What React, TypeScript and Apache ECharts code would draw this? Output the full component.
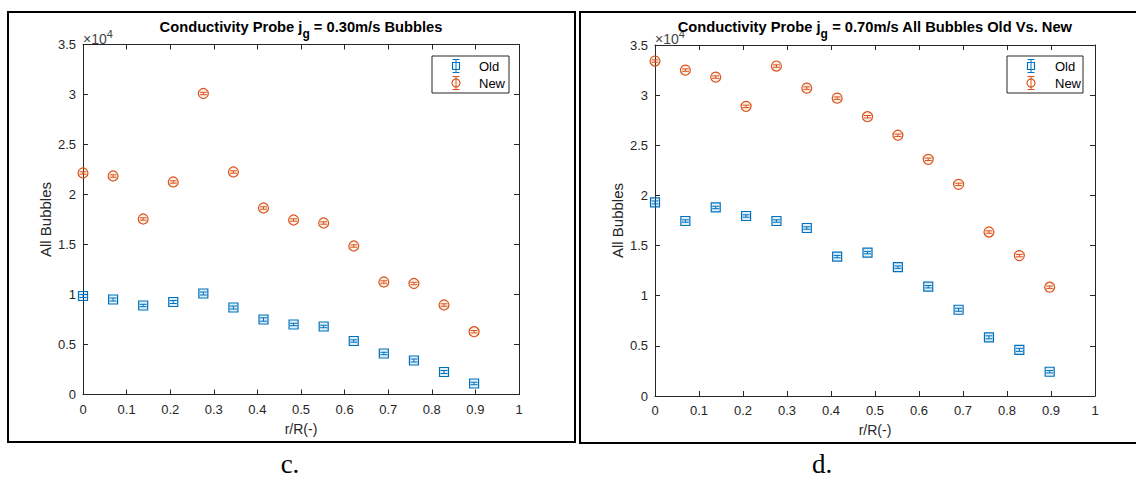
import React, { useEffect, useRef } from 'react';
import * as echarts from 'echarts';

// r/R positions (shared by both panels)
const rPos = [0, 0.069, 0.138, 0.207, 0.276, 0.345, 0.414, 0.483, 0.552, 0.621, 0.69, 0.759, 0.828, 0.897];
// panel c: jg = 0.30 m/s
const oldC = [9850, 9500, 8900, 9250, 10100, 8700, 7500, 7000, 6800, 5350, 4100, 3400, 2250, 1100];
const newC = [22150, 21850, 17550, 21250, 30100, 22250, 18650, 17450, 17150, 14850, 11250, 11100, 8950, 6280];
const errOldC = [150, 150, 120, 150, 150, 150, 170, 120, 120, 120, 120, 150, 150, 120];
const errNewC = [120, 120, 120, 120, 120, 120, 120, 120, 120, 120, 120, 120, 120, 120];
// panel d: jg = 0.70 m/s
const oldD = [19300, 17450, 18800, 17950, 17450, 16750, 13900, 14300, 12850, 10900, 8600, 5850, 4600, 2420];
const newD = [33400, 32500, 31800, 28880, 32900, 30700, 29700, 27850, 26000, 23600, 21100, 16350, 14000, 10850];
const errOldD = [150, 120, 120, 120, 120, 120, 120, 120, 120, 120, 150, 150, 150, 120];
const errNewD = [120, 120, 120, 120, 120, 120, 120, 120, 120, 120, 120, 120, 120, 120];

const seriesNames = ['Old', 'New'];
const titles = [
  { pre: 'Conductivity Probe j', sub: 'g', post: ' = 0.30m/s Bubbles' },
  { pre: 'Conductivity Probe j', sub: 'g', post: ' = 0.70m/s All Bubbles Old Vs. New' },
];
const panelLabels = ['c.', 'd.'];
const xName = 'r/R(-)';
const yName = 'All Bubbles';

const BLUE = '#0072BD';
const ORANGE = '#D95319';
const AX = '#262626';
const FONT = '"Liberation Sans", Arial, Helvetica, sans-serif';

const makeRender = (kind: 'sq' | 'ci', color: string) => (params: any, api: any) => {
  const x = api.value(0);
  const y = api.value(1);
  const e = api.value(2);
  const c = api.coord([x, y]);
  const t = api.coord([x, y + e]);
  const b = api.coord([x, y - e]);
  const st = { stroke: color, lineWidth: 1, fill: 'none' };
  const children: any[] = [];
  if (kind === 'sq') {
    children.push({ type: 'rect', shape: { x: c[0] - 4.5, y: c[1] - 4.5, width: 9, height: 9 }, style: { stroke: color, lineWidth: 1.2, fill: 'rgba(0,114,189,0.12)' } });
  } else {
    children.push({ type: 'circle', shape: { cx: c[0], cy: c[1], r: 5 }, style: { stroke: color, lineWidth: 1.2, fill: 'rgba(217,83,25,0.08)' } });
  }
  children.push({ type: 'line', shape: { x1: c[0], y1: t[1], x2: c[0], y2: b[1] }, style: st });
  children.push({ type: 'line', shape: { x1: c[0] - 3.5, y1: t[1], x2: c[0] + 3.5, y2: t[1] }, style: st });
  children.push({ type: 'line', shape: { x1: c[0] - 3.5, y1: b[1], x2: c[0] + 3.5, y2: b[1] }, style: st });
  return { type: 'group', children };
};

const toData = (ys: number[], es: number[]) => rPos.map((x, i) => [x, ys[i], es[i]]);

const fmtX = (v: number) => (v === 0 ? '0' : v === 1 ? '1' : v.toFixed(1));
const fmtY = (v: number) => String(Math.round(v / 1000) / 10);

function xAxes(gridIndex: number) {
  const base = {
    type: 'value', gridIndex, min: 0, max: 1, interval: 0.1,
    axisLine: { show: true, onZero: false, lineStyle: { color: AX, width: 1 } },
    axisTick: { show: true, inside: true, length: 5, lineStyle: { color: AX } },
    splitLine: { show: false },
  };
  return [
    {
      ...base, position: 'bottom',
      axisLabel: { show: true, formatter: fmtX, color: AX, fontSize: 13, fontFamily: FONT, margin: 8 },
      name: xName, nameLocation: 'middle', nameGap: 27,
      nameTextStyle: { color: AX, fontSize: 14, fontFamily: FONT },
    },
    { ...base, position: 'top', axisLabel: { show: false } },
  ];
}

function yAxes(gridIndex: number) {
  const base = {
    type: 'value', gridIndex, min: 0, max: 35000, interval: 5000,
    axisLine: { show: true, onZero: false, lineStyle: { color: AX, width: 1 } },
    axisTick: { show: true, inside: true, length: 5, lineStyle: { color: AX } },
    splitLine: { show: false },
  };
  return [
    {
      ...base, position: 'left',
      axisLabel: { show: true, formatter: fmtY, color: AX, fontSize: 13, fontFamily: FONT, margin: 7 },
      name: yName, nameLocation: 'middle', nameGap: 30, nameRotate: 90,
      nameTextStyle: { color: AX, fontSize: 15, fontFamily: FONT },
    },
    { ...base, position: 'right', axisLabel: { show: false } },
  ];
}

function titleText(i: number, cx: number) {
  const t = titles[i];
  return {
    type: 'text', x: cx, y: 19, z: 10,
    style: {
      text: `{a|${t.pre}}{s|${t.sub}}{a|${t.post}}`,
      align: 'center', verticalAlign: 'top',
      rich: {
        a: { fontSize: 14.7, fontWeight: 'bold', fontFamily: FONT, fill: '#000', color: '#000', verticalAlign: 'top' },
        s: { fontSize: 12, fontWeight: 'bold', fontFamily: FONT, fill: '#000', color: '#000', padding: [9, 0, 0, 0] },
      },
    },
  };
}

function expText(x: number) {
  return {
    type: 'text', x, y: 28, z: 5,
    style: {
      text: '{b|×10}{p|4}',
      align: 'left', verticalAlign: 'top',
      rich: {
        b: { fontSize: 14, fontFamily: FONT, fill: '#444', color: '#444', padding: [4, 0, 0, 0] },
        p: { fontSize: 11, fontFamily: FONT, fill: '#444', color: '#444', verticalAlign: 'top' },
      },
    },
  };
}

function legendBox(x: number, y: number, w: number, h: number, iconX: number, textX: number) {
  const sq = (cy: number) => [
    { type: 'line', shape: { x1: iconX, y1: cy - 6.5, x2: iconX, y2: cy + 6.5 }, style: { stroke: BLUE, lineWidth: 1 } },
    { type: 'line', shape: { x1: iconX - 3.5, y1: cy - 6.5, x2: iconX + 3.5, y2: cy - 6.5 }, style: { stroke: BLUE, lineWidth: 1 } },
    { type: 'line', shape: { x1: iconX - 3.5, y1: cy + 6.5, x2: iconX + 3.5, y2: cy + 6.5 }, style: { stroke: BLUE, lineWidth: 1 } },
    { type: 'rect', shape: { x: iconX - 3.5, y: cy - 3.5, width: 7, height: 7 }, style: { stroke: BLUE, lineWidth: 1.2, fill: 'none' } },
  ];
  const ci = (cy: number) => [
    { type: 'line', shape: { x1: iconX, y1: cy - 6.5, x2: iconX, y2: cy + 6.5 }, style: { stroke: ORANGE, lineWidth: 1 } },
    { type: 'line', shape: { x1: iconX - 3.5, y1: cy - 6.5, x2: iconX + 3.5, y2: cy - 6.5 }, style: { stroke: ORANGE, lineWidth: 1 } },
    { type: 'line', shape: { x1: iconX - 3.5, y1: cy + 6.5, x2: iconX + 3.5, y2: cy + 6.5 }, style: { stroke: ORANGE, lineWidth: 1 } },
    { type: 'circle', shape: { cx: iconX, cy, r: 4 }, style: { stroke: ORANGE, lineWidth: 1.2, fill: 'none' } },
  ];
  return [
    { type: 'rect', z: 20, shape: { x, y, width: w, height: h }, style: { fill: '#fff', stroke: '#262626', lineWidth: 1 } },
    ...sq(y + 10).map((e) => ({ ...e, z: 21 })),
    ...ci(y + 27).map((e) => ({ ...e, z: 21 })),
    { type: 'text', z: 21, x: textX, y: y + 10, style: { text: seriesNames[0], fontSize: 13, fontFamily: FONT, fill: '#000', verticalAlign: 'middle' } },
    { type: 'text', z: 21, x: textX, y: y + 27, style: { text: seriesNames[1], fontSize: 13, fontFamily: FONT, fill: '#000', verticalAlign: 'middle' } },
  ];
}

export default function App() {
  const ref = useRef<HTMLDivElement>(null);
  useEffect(() => {
    if (!ref.current) return;
    const chart = echarts.init(ref.current, null, { renderer: 'svg' });
    const option: any = {
      animation: false,
      backgroundColor: '#fff',
      grid: [
        { left: 83, top: 44.5, width: 436, height: 350 },
        { left: 655, top: 45, width: 440, height: 351 },
      ],
      xAxis: [...xAxes(0), ...xAxes(1)],
      yAxis: [...yAxes(0), ...yAxes(1)],
      series: [
        { type: 'custom', name: 'Old', xAxisIndex: 0, yAxisIndex: 0, encode: { x: 0, y: 1 }, renderItem: makeRender('sq', BLUE), data: toData(oldC, errOldC), z: 3 },
        { type: 'custom', name: 'New', xAxisIndex: 0, yAxisIndex: 0, encode: { x: 0, y: 1 }, renderItem: makeRender('ci', ORANGE), data: toData(newC, errNewC), z: 3 },
        { type: 'custom', name: 'Old', xAxisIndex: 2, yAxisIndex: 2, encode: { x: 0, y: 1 }, renderItem: makeRender('sq', BLUE), data: toData(oldD, errOldD), z: 3 },
        { type: 'custom', name: 'New', xAxisIndex: 2, yAxisIndex: 2, encode: { x: 0, y: 1 }, renderItem: makeRender('ci', ORANGE), data: toData(newD, errNewD), z: 3 },
      ],
      graphic: [
        { type: 'rect', shape: { x: 8, y: 12, width: 567, height: 430 }, style: { fill: 'none', stroke: '#000', lineWidth: 2 } },
        { type: 'rect', shape: { x: 580, y: 12, width: 580, height: 431 }, style: { fill: 'none', stroke: '#000', lineWidth: 2 } },
        expText(83),
        expText(655),
        titleText(0, 301),
        titleText(1, 875),
        ...legendBox(432, 56, 77, 37, 456, 479),
        ...legendBox(1007, 56, 76, 37, 1031, 1055),
        { type: 'text', x: 290, y: 464, style: { text: panelLabels[0], fontSize: 27, fontFamily: '"Liberation Serif", "Times New Roman", serif', fill: '#000', align: 'center', verticalAlign: 'middle' } },
        { type: 'text', x: 822, y: 464, style: { text: panelLabels[1], fontSize: 27, fontFamily: '"Liberation Serif", "Times New Roman", serif', fill: '#000', align: 'center', verticalAlign: 'middle' } },
      ],
    };
    chart.setOption(option);
    return () => chart.dispose();
  }, []);
  return (
    <div style={{ position: 'absolute', left: 0, top: 0, width: 1136, height: 478, background: '#fff' }}>
      <div ref={ref} style={{ width: 1136, height: 478 }} />
    </div>
  );
}
